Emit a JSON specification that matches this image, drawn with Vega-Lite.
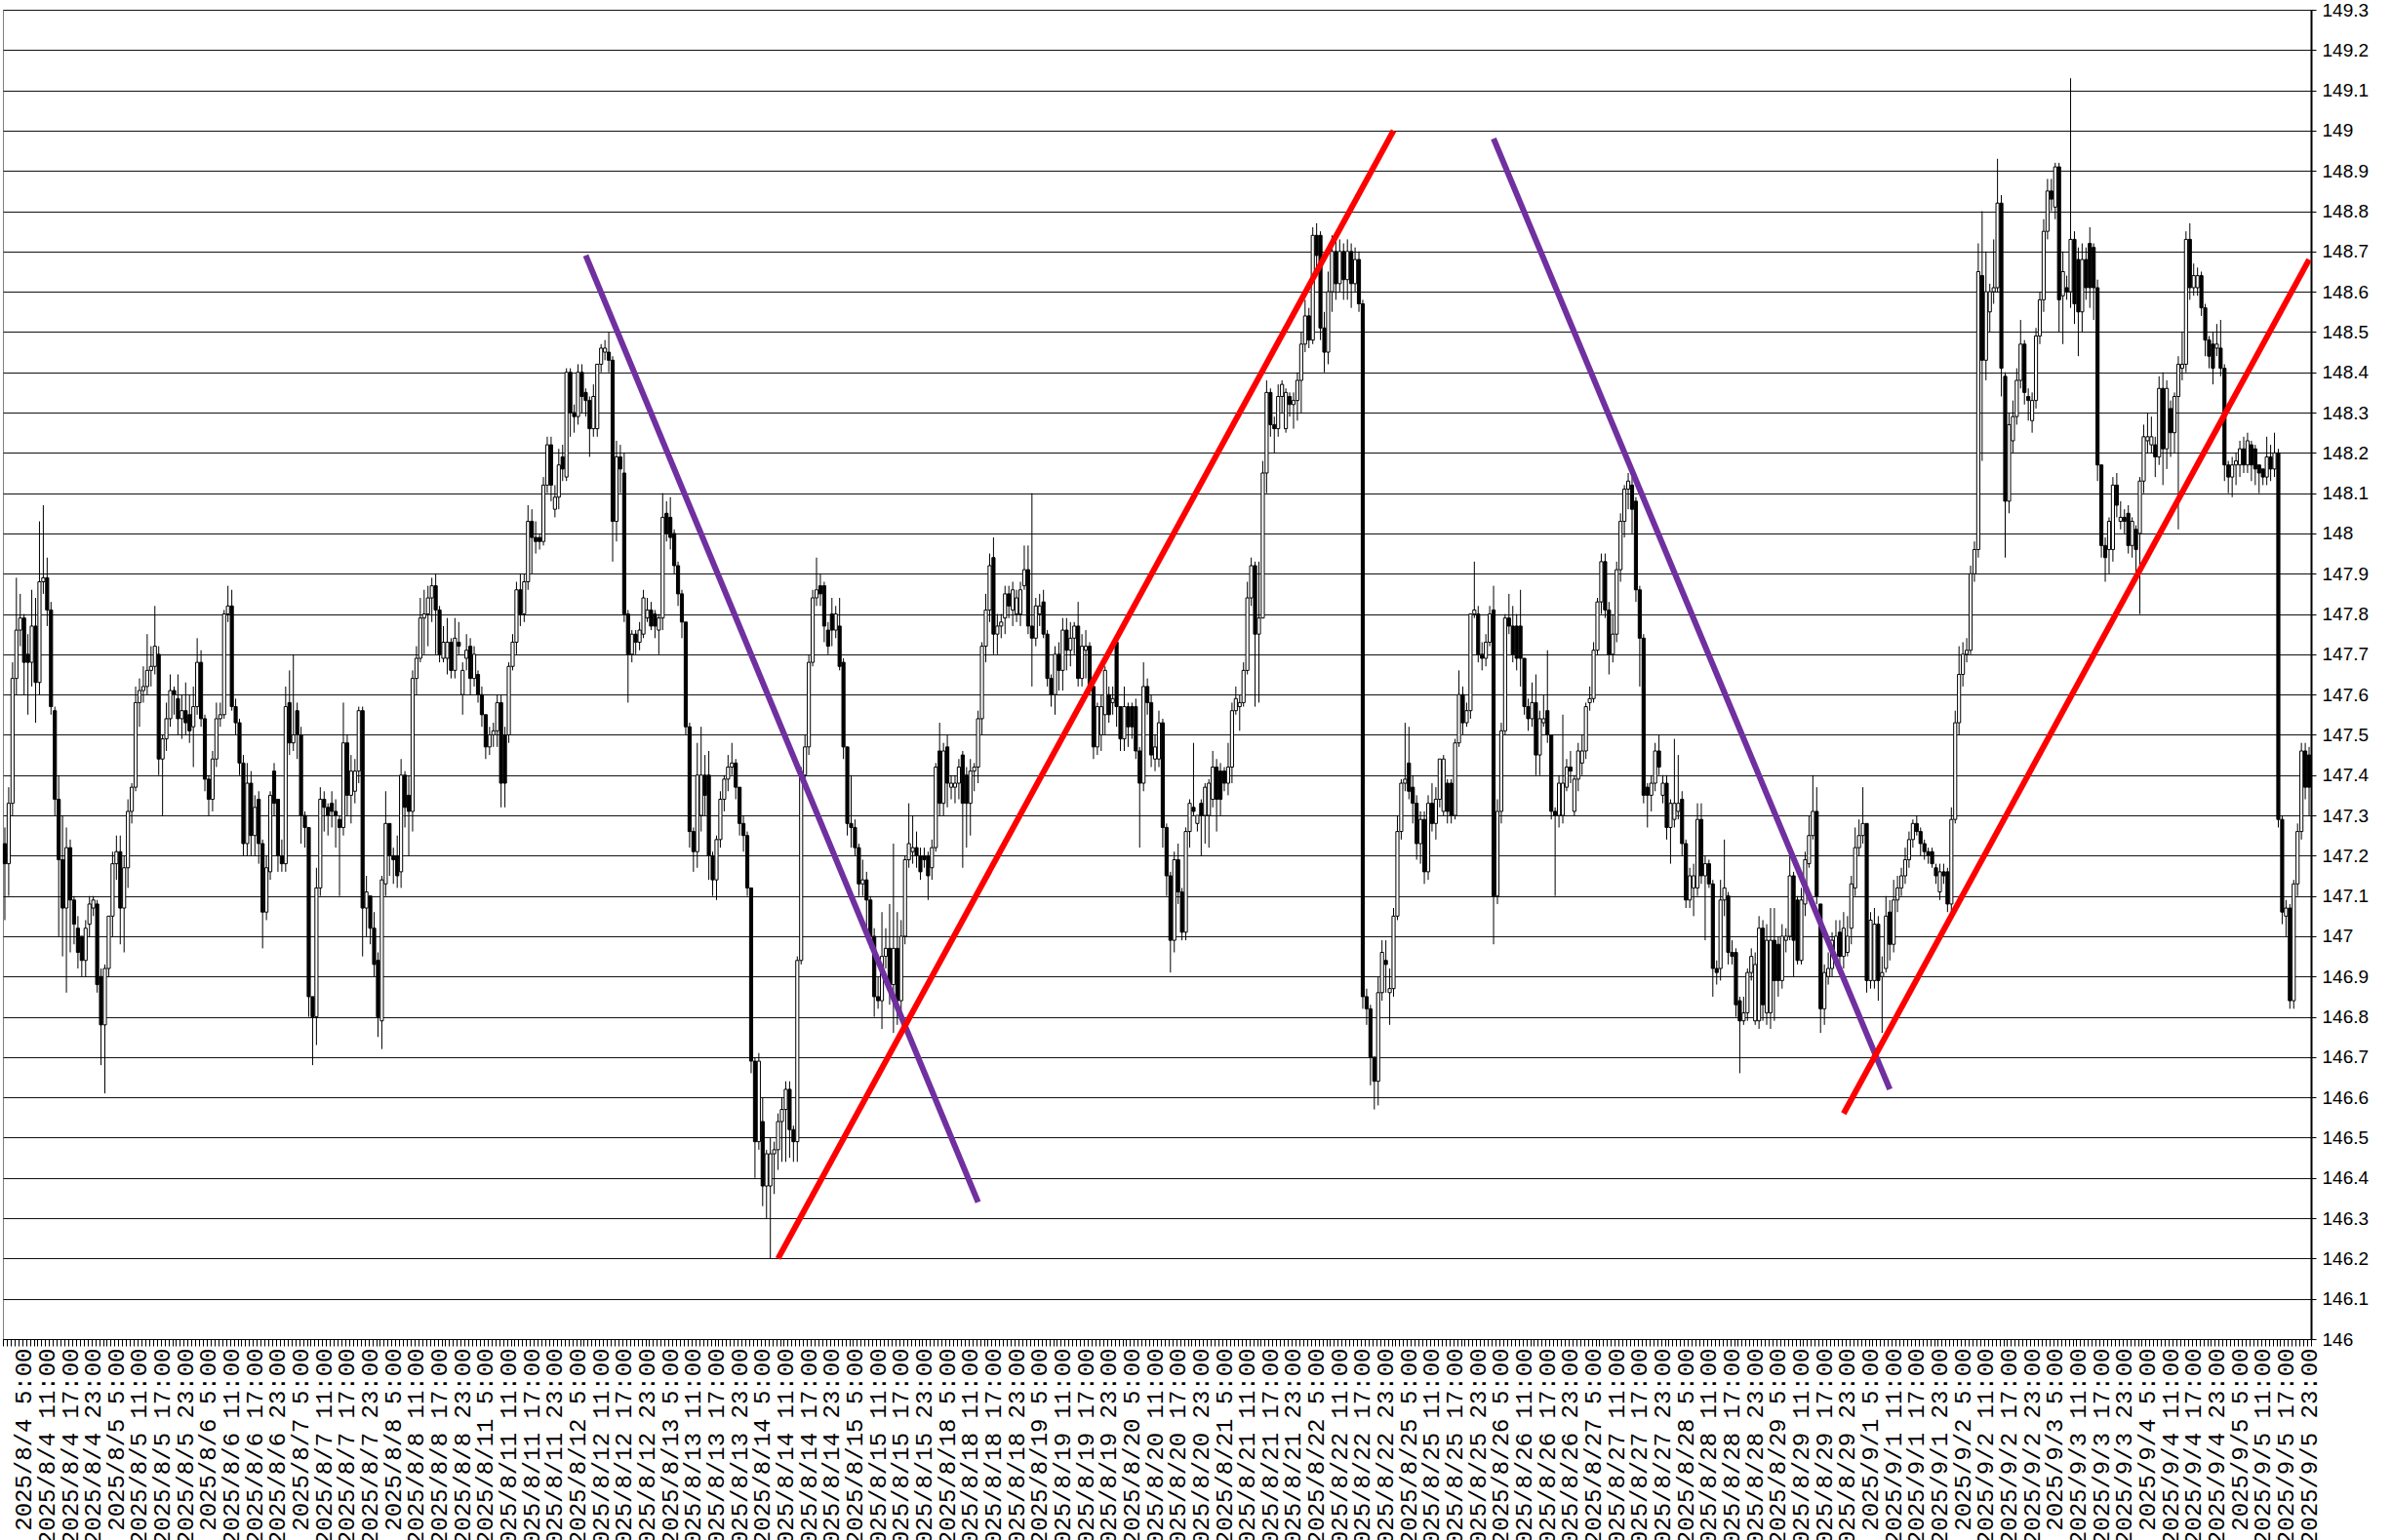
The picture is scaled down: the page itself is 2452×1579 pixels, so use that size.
{
"$schema":"https://vega.github.io/schema/vega-lite/v6.json",
"width":2366,"height":1363,
"autosize":{"type":"none"},
"padding":{"left":3,"top":10,"right":83,"bottom":206},
"background":"white",
"config":{"view":{"stroke":"#808080","strokeWidth":1}},
"datasets":{
"candles":[
{"t":"8/4 0","o":147.23,"h":147.27,"l":147.04,"c":147.18},
{"t":"8/4 1","o":147.18,"h":147.37,"l":147.10,"c":147.33},
{"t":"8/4 2","o":147.33,"h":147.68,"l":147.30,"c":147.64},
{"t":"8/4 3","o":147.64,"h":147.89,"l":147.60,"c":147.76},
{"t":"8/4 4","o":147.76,"h":147.85,"l":147.72,"c":147.79},
{"t":"8/4 5","o":147.79,"h":147.80,"l":147.60,"c":147.68},
{"t":"8/4 6","o":147.70,"h":147.75,"l":147.55,"c":147.68},
{"t":"8/4 7","o":147.68,"h":147.86,"l":147.62,"c":147.77},
{"t":"8/4 8","o":147.77,"h":147.84,"l":147.53,"c":147.63},
{"t":"8/4 9","o":147.63,"h":148.03,"l":147.60,"c":147.88},
{"t":"8/4 10","o":147.88,"h":148.07,"l":147.85,"c":147.89},
{"t":"8/4 11","o":147.89,"h":147.94,"l":147.77,"c":147.81},
{"t":"8/4 12","o":147.81,"h":147.83,"l":147.55,"c":147.57},
{"t":"8/4 13","o":147.56,"h":147.57,"l":147.30,"c":147.34},
{"t":"8/4 14","o":147.34,"h":147.40,"l":147.00,"c":147.19},
{"t":"8/4 15","o":147.19,"h":147.30,"l":146.95,"c":147.07},
{"t":"8/4 16","o":147.07,"h":147.27,"l":146.86,"c":147.22},
{"t":"8/4 17","o":147.22,"h":147.24,"l":146.96,"c":147.09},
{"t":"8/4 18","o":147.09,"h":147.10,"l":146.98,"c":147.03},
{"t":"8/4 19","o":147.02,"h":147.05,"l":146.92,"c":146.96},
{"t":"8/4 20","o":147.00,"h":147.00,"l":146.90,"c":146.94},
{"t":"8/4 21","o":146.94,"h":147.04,"l":146.90,"c":147.02},
{"t":"8/4 22","o":147.03,"h":147.10,"l":147.00,"c":147.08},
{"t":"8/4 23","o":147.07,"h":147.10,"l":147.05,"c":147.09},
{"t":"8/5 0","o":147.08,"h":147.09,"l":146.86,"c":146.88},
{"t":"8/5 1","o":146.90,"h":146.92,"l":146.68,"c":146.78},
{"t":"8/5 2","o":146.78,"h":146.93,"l":146.61,"c":146.92},
{"t":"8/5 3","o":146.92,"h":147.05,"l":146.90,"c":147.05},
{"t":"8/5 4","o":147.05,"h":147.21,"l":147.00,"c":147.18},
{"t":"8/5 5","o":147.18,"h":147.25,"l":147.14,"c":147.21},
{"t":"8/5 6","o":147.21,"h":147.25,"l":146.98,"c":147.07},
{"t":"8/5 7","o":147.07,"h":147.20,"l":146.96,"c":147.17},
{"t":"8/5 8","o":147.17,"h":147.34,"l":147.12,"c":147.31},
{"t":"8/5 9","o":147.31,"h":147.38,"l":147.28,"c":147.37},
{"t":"8/5 10","o":147.37,"h":147.62,"l":147.36,"c":147.58},
{"t":"8/5 11","o":147.58,"h":147.64,"l":147.52,"c":147.61},
{"t":"8/5 12","o":147.61,"h":147.67,"l":147.58,"c":147.62},
{"t":"8/5 13","o":147.62,"h":147.75,"l":147.60,"c":147.66},
{"t":"8/5 14","o":147.66,"h":147.72,"l":147.62,"c":147.67},
{"t":"8/5 15","o":147.67,"h":147.82,"l":147.65,"c":147.72},
{"t":"8/5 16","o":147.70,"h":147.72,"l":147.40,"c":147.44},
{"t":"8/5 17","o":147.44,"h":147.50,"l":147.30,"c":147.49},
{"t":"8/5 18","o":147.49,"h":147.58,"l":147.46,"c":147.54},
{"t":"8/5 19","o":147.54,"h":147.65,"l":147.52,"c":147.61},
{"t":"8/5 20","o":147.61,"h":147.62,"l":147.55,"c":147.60},
{"t":"8/5 21","o":147.59,"h":147.65,"l":147.50,"c":147.54},
{"t":"8/5 22","o":147.54,"h":147.60,"l":147.49,"c":147.56},
{"t":"8/5 23","o":147.56,"h":147.63,"l":147.50,"c":147.53},
{"t":"8/6 0","o":147.55,"h":147.60,"l":147.48,"c":147.51},
{"t":"8/6 1","o":147.52,"h":147.62,"l":147.42,"c":147.57},
{"t":"8/6 2","o":147.57,"h":147.74,"l":147.55,"c":147.68},
{"t":"8/6 3","o":147.68,"h":147.71,"l":147.52,"c":147.54},
{"t":"8/6 4","o":147.54,"h":147.55,"l":147.36,"c":147.39},
{"t":"8/6 5","o":147.39,"h":147.40,"l":147.30,"c":147.34},
{"t":"8/6 6","o":147.34,"h":147.46,"l":147.31,"c":147.44},
{"t":"8/6 7","o":147.44,"h":147.58,"l":147.42,"c":147.54},
{"t":"8/6 8","o":147.54,"h":147.58,"l":147.52,"c":147.55},
{"t":"8/6 9","o":147.55,"h":147.81,"l":147.54,"c":147.80},
{"t":"8/6 10","o":147.80,"h":147.87,"l":147.78,"c":147.82},
{"t":"8/6 11","o":147.82,"h":147.86,"l":147.56,"c":147.57},
{"t":"8/6 12","o":147.57,"h":147.59,"l":147.50,"c":147.53},
{"t":"8/6 13","o":147.53,"h":147.54,"l":147.40,"c":147.43},
{"t":"8/6 14","o":147.43,"h":147.45,"l":147.20,"c":147.23},
{"t":"8/6 15","o":147.23,"h":147.43,"l":147.20,"c":147.38},
{"t":"8/6 16","o":147.38,"h":147.41,"l":147.20,"c":147.25},
{"t":"8/6 17","o":147.25,"h":147.35,"l":147.20,"c":147.32},
{"t":"8/6 18","o":147.34,"h":147.36,"l":147.18,"c":147.23},
{"t":"8/6 19","o":147.23,"h":147.24,"l":146.97,"c":147.06},
{"t":"8/6 20","o":147.06,"h":147.20,"l":147.04,"c":147.17},
{"t":"8/6 21","o":147.16,"h":147.36,"l":147.14,"c":147.35},
{"t":"8/6 22","o":147.41,"h":147.43,"l":147.30,"c":147.33},
{"t":"8/6 23","o":147.34,"h":147.34,"l":147.16,"c":147.20},
{"t":"8/7 0","o":147.20,"h":147.24,"l":147.16,"c":147.18},
{"t":"8/7 1","o":147.18,"h":147.62,"l":147.16,"c":147.57},
{"t":"8/7 2","o":147.58,"h":147.66,"l":147.45,"c":147.48},
{"t":"8/7 3","o":147.48,"h":147.70,"l":147.46,"c":147.50},
{"t":"8/7 4","o":147.56,"h":147.58,"l":147.44,"c":147.50},
{"t":"8/7 5","o":147.50,"h":147.52,"l":147.23,"c":147.30},
{"t":"8/7 6","o":147.30,"h":147.31,"l":147.22,"c":147.27},
{"t":"8/7 7","o":147.27,"h":147.27,"l":146.80,"c":146.85},
{"t":"8/7 8","o":146.85,"h":146.85,"l":146.68,"c":146.80},
{"t":"8/7 9","o":146.80,"h":147.17,"l":146.73,"c":147.12},
{"t":"8/7 10","o":147.12,"h":147.37,"l":147.10,"c":147.34},
{"t":"8/7 11","o":147.34,"h":147.36,"l":147.26,"c":147.32},
{"t":"8/7 12","o":147.32,"h":147.33,"l":147.25,"c":147.30},
{"t":"8/7 13","o":147.33,"h":147.36,"l":147.27,"c":147.31},
{"t":"8/7 14","o":147.31,"h":147.34,"l":147.22,"c":147.30},
{"t":"8/7 15","o":147.29,"h":147.30,"l":147.10,"c":147.27},
{"t":"8/7 16","o":147.27,"h":147.58,"l":147.25,"c":147.48},
{"t":"8/7 17","o":147.48,"h":147.50,"l":147.30,"c":147.35},
{"t":"8/7 18","o":147.35,"h":147.45,"l":147.28,"c":147.41},
{"t":"8/7 19","o":147.36,"h":147.44,"l":147.33,"c":147.41},
{"t":"8/7 20","o":147.41,"h":147.57,"l":147.38,"c":147.56},
{"t":"8/7 21","o":147.56,"h":147.57,"l":146.95,"c":147.07},
{"t":"8/7 22","o":147.07,"h":147.15,"l":147.00,"c":147.11},
{"t":"8/7 23","o":147.10,"h":147.10,"l":146.98,"c":147.02},
{"t":"8/8 0","o":147.02,"h":147.06,"l":146.90,"c":146.93},
{"t":"8/8 1","o":146.94,"h":146.96,"l":146.75,"c":146.80},
{"t":"8/8 2","o":146.79,"h":147.15,"l":146.72,"c":147.14},
{"t":"8/8 3","o":147.13,"h":147.36,"l":147.10,"c":147.28},
{"t":"8/8 4","o":147.28,"h":147.28,"l":147.15,"c":147.20},
{"t":"8/8 5","o":147.20,"h":147.22,"l":147.13,"c":147.19},
{"t":"8/8 6","o":147.20,"h":147.25,"l":147.12,"c":147.15},
{"t":"8/8 7","o":147.16,"h":147.44,"l":147.12,"c":147.40},
{"t":"8/8 8","o":147.40,"h":147.41,"l":147.27,"c":147.32},
{"t":"8/8 9","o":147.35,"h":147.40,"l":147.20,"c":147.31},
{"t":"8/8 10","o":147.31,"h":147.66,"l":147.26,"c":147.64},
{"t":"8/8 11","o":147.64,"h":147.72,"l":147.60,"c":147.69},
{"t":"8/8 12","o":147.69,"h":147.84,"l":147.68,"c":147.79},
{"t":"8/8 13","o":147.79,"h":147.86,"l":147.70,"c":147.80},
{"t":"8/8 14","o":147.80,"h":147.87,"l":147.72,"c":147.84},
{"t":"8/8 15","o":147.84,"h":147.89,"l":147.78,"c":147.87},
{"t":"8/8 16","o":147.87,"h":147.90,"l":147.70,"c":147.81},
{"t":"8/8 17","o":147.81,"h":147.82,"l":147.68,"c":147.70},
{"t":"8/8 18","o":147.69,"h":147.77,"l":147.68,"c":147.73},
{"t":"8/8 19","o":147.69,"h":147.79,"l":147.65,"c":147.73},
{"t":"8/8 20","o":147.73,"h":147.74,"l":147.64,"c":147.66},
{"t":"8/8 21","o":147.66,"h":147.79,"l":147.64,"c":147.74},
{"t":"8/8 22","o":147.73,"h":147.78,"l":147.70,"c":147.72},
{"t":"8/8 23","o":147.60,"h":147.68,"l":147.55,"c":147.66},
{"t":"8/11 0","o":147.69,"h":147.75,"l":147.66,"c":147.71},
{"t":"8/11 1","o":147.72,"h":147.74,"l":147.60,"c":147.64},
{"t":"8/11 2","o":147.64,"h":147.72,"l":147.62,"c":147.70},
{"t":"8/11 3","o":147.65,"h":147.66,"l":147.58,"c":147.60},
{"t":"8/11 4","o":147.60,"h":147.62,"l":147.52,"c":147.55},
{"t":"8/11 5","o":147.55,"h":147.55,"l":147.44,"c":147.47},
{"t":"8/11 6","o":147.47,"h":147.52,"l":147.45,"c":147.50},
{"t":"8/11 7","o":147.50,"h":147.53,"l":147.47,"c":147.51},
{"t":"8/11 8","o":147.51,"h":147.60,"l":147.47,"c":147.58},
{"t":"8/11 9","o":147.58,"h":147.60,"l":147.32,"c":147.38},
{"t":"8/11 10","o":147.50,"h":147.52,"l":147.32,"c":147.38},
{"t":"8/11 11","o":147.50,"h":147.68,"l":147.48,"c":147.67},
{"t":"8/11 12","o":147.67,"h":147.75,"l":147.66,"c":147.73},
{"t":"8/11 13","o":147.73,"h":147.88,"l":147.70,"c":147.86},
{"t":"8/11 14","o":147.86,"h":147.90,"l":147.77,"c":147.80},
{"t":"8/11 15","o":147.80,"h":147.90,"l":147.78,"c":147.88},
{"t":"8/11 16","o":147.88,"h":148.07,"l":147.86,"c":148.03},
{"t":"8/11 17","o":148.03,"h":148.06,"l":147.90,"c":147.99},
{"t":"8/11 18","o":147.99,"h":148.03,"l":147.95,"c":147.98},
{"t":"8/11 19","o":147.99,"h":148.00,"l":147.96,"c":147.98},
{"t":"8/11 20","o":147.98,"h":148.14,"l":147.97,"c":148.12},
{"t":"8/11 21","o":148.12,"h":148.24,"l":148.10,"c":148.22},
{"t":"8/11 22","o":148.22,"h":148.24,"l":148.08,"c":148.12},
{"t":"8/11 23","o":148.06,"h":148.12,"l":148.04,"c":148.09},
{"t":"8/12 0","o":148.09,"h":148.21,"l":148.06,"c":148.17},
{"t":"8/12 1","o":148.19,"h":148.22,"l":148.13,"c":148.16},
{"t":"8/12 2","o":148.14,"h":148.41,"l":148.13,"c":148.40},
{"t":"8/12 3","o":148.40,"h":148.41,"l":148.24,"c":148.30},
{"t":"8/12 4","o":148.30,"h":148.32,"l":148.25,"c":148.29},
{"t":"8/12 5","o":148.29,"h":148.42,"l":148.27,"c":148.40},
{"t":"8/12 6","o":148.40,"h":148.42,"l":148.30,"c":148.34},
{"t":"8/12 7","o":148.35,"h":148.36,"l":148.29,"c":148.33},
{"t":"8/12 8","o":148.33,"h":148.34,"l":148.19,"c":148.26},
{"t":"8/12 9","o":148.26,"h":148.37,"l":148.24,"c":148.34},
{"t":"8/12 10","o":148.26,"h":148.42,"l":148.24,"c":148.42},
{"t":"8/12 11","o":148.42,"h":148.47,"l":148.40,"c":148.46},
{"t":"8/12 12","o":148.45,"h":148.48,"l":148.43,"c":148.46},
{"t":"8/12 13","o":148.45,"h":148.50,"l":148.40,"c":148.43},
{"t":"8/12 14","o":148.43,"h":148.44,"l":147.93,"c":148.03},
{"t":"8/12 15","o":148.03,"h":148.23,"l":147.98,"c":148.19},
{"t":"8/12 16","o":148.19,"h":148.22,"l":148.10,"c":148.16},
{"t":"8/12 17","o":148.15,"h":148.20,"l":147.78,"c":147.80},
{"t":"8/12 18","o":147.80,"h":147.81,"l":147.58,"c":147.70},
{"t":"8/12 19","o":147.70,"h":147.76,"l":147.68,"c":147.75},
{"t":"8/12 20","o":147.75,"h":147.76,"l":147.70,"c":147.73},
{"t":"8/12 21","o":147.73,"h":147.78,"l":147.71,"c":147.76},
{"t":"8/12 22","o":147.75,"h":147.86,"l":147.74,"c":147.84},
{"t":"8/12 23","o":147.79,"h":147.84,"l":147.78,"c":147.81},
{"t":"8/13 0","o":147.81,"h":147.83,"l":147.76,"c":147.77},
{"t":"8/13 1","o":147.80,"h":147.81,"l":147.74,"c":147.77},
{"t":"8/13 2","o":147.76,"h":147.80,"l":147.70,"c":147.79},
{"t":"8/13 3","o":147.79,"h":148.10,"l":147.76,"c":148.04},
{"t":"8/13 4","o":148.05,"h":148.08,"l":147.98,"c":148.00},
{"t":"8/13 5","o":148.04,"h":148.09,"l":147.96,"c":147.99},
{"t":"8/13 6","o":148.00,"h":148.01,"l":147.90,"c":147.92},
{"t":"8/13 7","o":147.92,"h":147.93,"l":147.82,"c":147.85},
{"t":"8/13 8","o":147.85,"h":147.86,"l":147.74,"c":147.78},
{"t":"8/13 9","o":147.78,"h":147.78,"l":147.50,"c":147.52},
{"t":"8/13 10","o":147.52,"h":147.53,"l":147.22,"c":147.26},
{"t":"8/13 11","o":147.26,"h":147.27,"l":147.16,"c":147.21},
{"t":"8/13 12","o":147.21,"h":147.48,"l":147.17,"c":147.40},
{"t":"8/13 13","o":147.30,"h":147.52,"l":147.26,"c":147.40},
{"t":"8/13 14","o":147.40,"h":147.45,"l":147.30,"c":147.35},
{"t":"8/13 15","o":147.40,"h":147.46,"l":147.14,"c":147.20},
{"t":"8/13 16","o":147.20,"h":147.21,"l":147.10,"c":147.14},
{"t":"8/13 17","o":147.14,"h":147.25,"l":147.09,"c":147.24},
{"t":"8/13 18","o":147.24,"h":147.36,"l":147.22,"c":147.34},
{"t":"8/13 19","o":147.34,"h":147.40,"l":147.31,"c":147.39},
{"t":"8/13 20","o":147.39,"h":147.45,"l":147.36,"c":147.42},
{"t":"8/13 21","o":147.42,"h":147.48,"l":147.40,"c":147.43},
{"t":"8/13 22","o":147.43,"h":147.44,"l":147.34,"c":147.37},
{"t":"8/13 23","o":147.37,"h":147.37,"l":147.25,"c":147.28},
{"t":"8/14 0","o":147.28,"h":147.30,"l":147.21,"c":147.25},
{"t":"8/14 1","o":147.25,"h":147.26,"l":147.10,"c":147.12},
{"t":"8/14 2","o":147.12,"h":147.12,"l":146.66,"c":146.69},
{"t":"8/14 3","o":146.69,"h":146.70,"l":146.40,"c":146.49},
{"t":"8/14 4","o":146.49,"h":146.71,"l":146.47,"c":146.69},
{"t":"8/14 5","o":146.54,"h":146.60,"l":146.33,"c":146.38},
{"t":"8/14 6","o":146.38,"h":146.47,"l":146.30,"c":146.46},
{"t":"8/14 7","o":146.38,"h":146.50,"l":146.20,"c":146.46},
{"t":"8/14 8","o":146.46,"h":146.49,"l":146.36,"c":146.47},
{"t":"8/14 9","o":146.47,"h":146.56,"l":146.42,"c":146.54},
{"t":"8/14 10","o":146.54,"h":146.60,"l":146.44,"c":146.57},
{"t":"8/14 11","o":146.57,"h":146.64,"l":146.44,"c":146.62},
{"t":"8/14 12","o":146.62,"h":146.64,"l":146.45,"c":146.52},
{"t":"8/14 13","o":146.52,"h":146.53,"l":146.44,"c":146.49},
{"t":"8/14 14","o":146.49,"h":146.95,"l":146.44,"c":146.94},
{"t":"8/14 15","o":146.94,"h":147.42,"l":146.93,"c":147.40},
{"t":"8/14 16","o":147.40,"h":147.50,"l":147.38,"c":147.47},
{"t":"8/14 17","o":147.47,"h":147.70,"l":147.45,"c":147.68},
{"t":"8/14 18","o":147.68,"h":147.86,"l":147.67,"c":147.84},
{"t":"8/14 19","o":147.84,"h":147.94,"l":147.82,"c":147.86},
{"t":"8/14 20","o":147.87,"h":147.90,"l":147.82,"c":147.85},
{"t":"8/14 21","o":147.87,"h":147.88,"l":147.73,"c":147.77},
{"t":"8/14 22","o":147.76,"h":147.78,"l":147.70,"c":147.72},
{"t":"8/14 23","o":147.80,"h":147.84,"l":147.72,"c":147.76},
{"t":"8/15 0","o":147.76,"h":147.82,"l":147.74,"c":147.80},
{"t":"8/15 1","o":147.77,"h":147.84,"l":147.66,"c":147.67},
{"t":"8/15 2","o":147.68,"h":147.69,"l":147.44,"c":147.47},
{"t":"8/15 3","o":147.47,"h":147.47,"l":147.25,"c":147.28},
{"t":"8/15 4","o":147.28,"h":147.40,"l":147.22,"c":147.27},
{"t":"8/15 5","o":147.27,"h":147.29,"l":147.20,"c":147.22},
{"t":"8/15 6","o":147.22,"h":147.23,"l":147.10,"c":147.13},
{"t":"8/15 7","o":147.13,"h":147.19,"l":147.10,"c":147.14},
{"t":"8/15 8","o":147.14,"h":147.16,"l":147.02,"c":147.09},
{"t":"8/15 9","o":147.09,"h":147.10,"l":146.97,"c":147.00},
{"t":"8/15 10","o":147.00,"h":147.02,"l":146.80,"c":146.85},
{"t":"8/15 11","o":146.85,"h":146.90,"l":146.82,"c":146.84},
{"t":"8/15 12","o":146.84,"h":147.06,"l":146.77,"c":146.95},
{"t":"8/15 13","o":146.95,"h":147.02,"l":146.92,"c":146.97},
{"t":"8/15 14","o":146.97,"h":147.08,"l":146.83,"c":146.88},
{"t":"8/15 15","o":146.88,"h":147.23,"l":146.76,"c":146.97},
{"t":"8/15 16","o":146.97,"h":147.06,"l":146.78,"c":146.84},
{"t":"8/15 17","o":146.84,"h":147.04,"l":146.80,"c":147.00},
{"t":"8/15 18","o":147.00,"h":147.20,"l":146.98,"c":147.19},
{"t":"8/15 19","o":147.19,"h":147.33,"l":147.17,"c":147.23},
{"t":"8/15 20","o":147.21,"h":147.30,"l":147.18,"c":147.22},
{"t":"8/15 21","o":147.22,"h":147.26,"l":147.17,"c":147.20},
{"t":"8/15 22","o":147.20,"h":147.22,"l":147.14,"c":147.16},
{"t":"8/15 23","o":147.20,"h":147.22,"l":147.17,"c":147.19},
{"t":"8/18 0","o":147.20,"h":147.21,"l":147.09,"c":147.15},
{"t":"8/18 1","o":147.17,"h":147.24,"l":147.14,"c":147.22},
{"t":"8/18 2","o":147.22,"h":147.43,"l":147.21,"c":147.42},
{"t":"8/18 3","o":147.46,"h":147.53,"l":147.30,"c":147.33},
{"t":"8/18 4","o":147.33,"h":147.48,"l":147.30,"c":147.46},
{"t":"8/18 5","o":147.47,"h":147.50,"l":147.32,"c":147.38},
{"t":"8/18 6","o":147.37,"h":147.40,"l":147.34,"c":147.38},
{"t":"8/18 7","o":147.37,"h":147.40,"l":147.33,"c":147.38},
{"t":"8/18 8","o":147.38,"h":147.44,"l":147.34,"c":147.42},
{"t":"8/18 9","o":147.45,"h":147.46,"l":147.17,"c":147.33},
{"t":"8/18 10","o":147.40,"h":147.42,"l":147.22,"c":147.33},
{"t":"8/18 11","o":147.33,"h":147.44,"l":147.25,"c":147.41},
{"t":"8/18 12","o":147.41,"h":147.43,"l":147.36,"c":147.42},
{"t":"8/18 13","o":147.42,"h":147.56,"l":147.38,"c":147.54},
{"t":"8/18 14","o":147.54,"h":147.73,"l":147.50,"c":147.72},
{"t":"8/18 15","o":147.72,"h":147.85,"l":147.68,"c":147.81},
{"t":"8/18 16","o":147.81,"h":147.95,"l":147.78,"c":147.92},
{"t":"8/18 17","o":147.94,"h":147.99,"l":147.70,"c":147.75},
{"t":"8/18 18","o":147.75,"h":147.80,"l":147.70,"c":147.77},
{"t":"8/18 19","o":147.77,"h":147.80,"l":147.74,"c":147.78},
{"t":"8/18 20","o":147.79,"h":147.87,"l":147.75,"c":147.85},
{"t":"8/18 21","o":147.85,"h":147.87,"l":147.79,"c":147.82},
{"t":"8/18 22","o":147.81,"h":147.88,"l":147.77,"c":147.86},
{"t":"8/18 23","o":147.80,"h":147.86,"l":147.78,"c":147.84},
{"t":"8/19 0","o":147.80,"h":147.88,"l":147.77,"c":147.86},
{"t":"8/19 1","o":147.87,"h":147.97,"l":147.86,"c":147.91},
{"t":"8/19 2","o":147.91,"h":147.97,"l":147.75,"c":147.77},
{"t":"8/19 3","o":147.77,"h":148.10,"l":147.62,"c":147.74},
{"t":"8/19 4","o":147.74,"h":147.84,"l":147.72,"c":147.82},
{"t":"8/19 5","o":147.80,"h":147.85,"l":147.77,"c":147.82},
{"t":"8/19 6","o":147.83,"h":147.86,"l":147.74,"c":147.75},
{"t":"8/19 7","o":147.75,"h":147.76,"l":147.62,"c":147.64},
{"t":"8/19 8","o":147.64,"h":147.65,"l":147.57,"c":147.60},
{"t":"8/19 9","o":147.60,"h":147.72,"l":147.55,"c":147.70},
{"t":"8/19 10","o":147.70,"h":147.73,"l":147.61,"c":147.66},
{"t":"8/19 11","o":147.66,"h":147.79,"l":147.61,"c":147.76},
{"t":"8/19 12","o":147.76,"h":147.79,"l":147.66,"c":147.71},
{"t":"8/19 13","o":147.71,"h":147.78,"l":147.67,"c":147.74},
{"t":"8/19 14","o":147.74,"h":147.78,"l":147.70,"c":147.77},
{"t":"8/19 15","o":147.77,"h":147.83,"l":147.62,"c":147.64},
{"t":"8/19 16","o":147.64,"h":147.75,"l":147.62,"c":147.72},
{"t":"8/19 17","o":147.71,"h":147.76,"l":147.64,"c":147.72},
{"t":"8/19 18","o":147.72,"h":147.73,"l":147.60,"c":147.61},
{"t":"8/19 19","o":147.62,"h":147.62,"l":147.44,"c":147.47},
{"t":"8/19 20","o":147.47,"h":147.58,"l":147.45,"c":147.57},
{"t":"8/19 21","o":147.50,"h":147.60,"l":147.46,"c":147.57},
{"t":"8/19 22","o":147.55,"h":147.67,"l":147.50,"c":147.66},
{"t":"8/19 23","o":147.60,"h":147.62,"l":147.53,"c":147.55},
{"t":"8/20 0","o":147.58,"h":147.62,"l":147.55,"c":147.59},
{"t":"8/20 1","o":147.73,"h":147.74,"l":147.52,"c":147.57},
{"t":"8/20 2","o":147.57,"h":147.57,"l":147.46,"c":147.49},
{"t":"8/20 3","o":147.49,"h":147.62,"l":147.46,"c":147.57},
{"t":"8/20 4","o":147.57,"h":147.58,"l":147.47,"c":147.52},
{"t":"8/20 5","o":147.57,"h":147.58,"l":147.49,"c":147.52},
{"t":"8/20 6","o":147.57,"h":147.59,"l":147.44,"c":147.46},
{"t":"8/20 7","o":147.46,"h":147.47,"l":147.22,"c":147.38},
{"t":"8/20 8","o":147.38,"h":147.68,"l":147.36,"c":147.62},
{"t":"8/20 9","o":147.62,"h":147.64,"l":147.55,"c":147.58},
{"t":"8/20 10","o":147.58,"h":147.60,"l":147.42,"c":147.45},
{"t":"8/20 11","o":147.44,"h":147.50,"l":147.41,"c":147.47},
{"t":"8/20 12","o":147.44,"h":147.56,"l":147.42,"c":147.53},
{"t":"8/20 13","o":147.53,"h":147.54,"l":147.22,"c":147.27},
{"t":"8/20 14","o":147.27,"h":147.28,"l":147.10,"c":147.15},
{"t":"8/20 15","o":147.15,"h":147.16,"l":146.91,"c":146.99},
{"t":"8/20 16","o":146.99,"h":147.21,"l":146.96,"c":147.19},
{"t":"8/20 17","o":147.19,"h":147.23,"l":147.08,"c":147.11},
{"t":"8/20 18","o":147.11,"h":147.12,"l":146.99,"c":147.01},
{"t":"8/20 19","o":147.01,"h":147.27,"l":146.99,"c":147.26},
{"t":"8/20 20","o":147.26,"h":147.34,"l":147.22,"c":147.33},
{"t":"8/20 21","o":147.32,"h":147.48,"l":147.30,"c":147.31},
{"t":"8/20 22","o":147.28,"h":147.30,"l":147.26,"c":147.30},
{"t":"8/20 23","o":147.33,"h":147.34,"l":147.20,"c":147.30},
{"t":"8/21 0","o":147.30,"h":147.38,"l":147.23,"c":147.37},
{"t":"8/21 1","o":147.30,"h":147.39,"l":147.22,"c":147.38},
{"t":"8/21 2","o":147.34,"h":147.46,"l":147.32,"c":147.42},
{"t":"8/21 3","o":147.42,"h":147.44,"l":147.26,"c":147.34},
{"t":"8/21 4","o":147.41,"h":147.43,"l":147.30,"c":147.34},
{"t":"8/21 5","o":147.41,"h":147.42,"l":147.36,"c":147.38},
{"t":"8/21 6","o":147.38,"h":147.48,"l":147.35,"c":147.42},
{"t":"8/21 7","o":147.42,"h":147.58,"l":147.38,"c":147.56},
{"t":"8/21 8","o":147.56,"h":147.62,"l":147.55,"c":147.59},
{"t":"8/21 9","o":147.57,"h":147.60,"l":147.51,"c":147.58},
{"t":"8/21 10","o":147.58,"h":147.68,"l":147.57,"c":147.66},
{"t":"8/21 11","o":147.66,"h":147.88,"l":147.65,"c":147.84},
{"t":"8/21 12","o":147.84,"h":147.94,"l":147.82,"c":147.92},
{"t":"8/21 13","o":147.92,"h":147.93,"l":147.57,"c":147.75},
{"t":"8/21 14","o":147.75,"h":147.93,"l":147.58,"c":147.79},
{"t":"8/21 15","o":147.79,"h":148.18,"l":147.79,"c":148.15},
{"t":"8/21 16","o":148.15,"h":148.38,"l":148.10,"c":148.35},
{"t":"8/21 17","o":148.35,"h":148.36,"l":148.24,"c":148.27},
{"t":"8/21 18","o":148.27,"h":148.29,"l":148.20,"c":148.26},
{"t":"8/21 19","o":148.26,"h":148.37,"l":148.24,"c":148.34},
{"t":"8/21 20","o":148.34,"h":148.38,"l":148.30,"c":148.37},
{"t":"8/21 21","o":148.26,"h":148.36,"l":148.25,"c":148.35},
{"t":"8/21 22","o":148.34,"h":148.35,"l":148.29,"c":148.32},
{"t":"8/21 23","o":148.32,"h":148.35,"l":148.26,"c":148.33},
{"t":"8/22 0","o":148.33,"h":148.40,"l":148.28,"c":148.38},
{"t":"8/22 1","o":148.38,"h":148.50,"l":148.30,"c":148.47},
{"t":"8/22 2","o":148.47,"h":148.58,"l":148.45,"c":148.54},
{"t":"8/22 3","o":148.54,"h":148.56,"l":148.46,"c":148.48},
{"t":"8/22 4","o":148.48,"h":148.76,"l":148.47,"c":148.74},
{"t":"8/22 5","o":148.74,"h":148.77,"l":148.66,"c":148.69},
{"t":"8/22 6","o":148.74,"h":148.75,"l":148.48,"c":148.51},
{"t":"8/22 7","o":148.51,"h":148.55,"l":148.40,"c":148.45},
{"t":"8/22 8","o":148.45,"h":148.65,"l":148.42,"c":148.60},
{"t":"8/22 9","o":148.60,"h":148.74,"l":148.55,"c":148.70},
{"t":"8/22 10","o":148.70,"h":148.73,"l":148.58,"c":148.62},
{"t":"8/22 11","o":148.62,"h":148.73,"l":148.60,"c":148.70},
{"t":"8/22 12","o":148.70,"h":148.72,"l":148.58,"c":148.63},
{"t":"8/22 13","o":148.63,"h":148.73,"l":148.58,"c":148.70},
{"t":"8/22 14","o":148.70,"h":148.72,"l":148.56,"c":148.62},
{"t":"8/22 15","o":148.62,"h":148.71,"l":148.60,"c":148.68},
{"t":"8/22 16","o":148.68,"h":148.70,"l":148.55,"c":148.57},
{"t":"8/22 17","o":148.57,"h":148.58,"l":146.82,"c":146.85},
{"t":"8/22 18","o":146.85,"h":146.87,"l":146.78,"c":146.82},
{"t":"8/22 19","o":146.82,"h":146.83,"l":146.63,"c":146.70},
{"t":"8/22 20","o":146.70,"h":146.70,"l":146.57,"c":146.64},
{"t":"8/22 21","o":146.64,"h":146.90,"l":146.58,"c":146.86},
{"t":"8/22 22","o":146.86,"h":146.99,"l":146.84,"c":146.96},
{"t":"8/22 23","o":146.94,"h":146.99,"l":146.86,"c":146.93},
{"t":"8/25 0","o":146.86,"h":146.92,"l":146.78,"c":146.87},
{"t":"8/25 1","o":146.87,"h":147.07,"l":146.85,"c":147.05},
{"t":"8/25 2","o":147.05,"h":147.30,"l":147.04,"c":147.26},
{"t":"8/25 3","o":147.26,"h":147.39,"l":147.24,"c":147.38},
{"t":"8/25 4","o":147.38,"h":147.53,"l":147.36,"c":147.39},
{"t":"8/25 5","o":147.43,"h":147.52,"l":147.34,"c":147.36},
{"t":"8/25 6","o":147.37,"h":147.40,"l":147.28,"c":147.33},
{"t":"8/25 7","o":147.33,"h":147.35,"l":147.19,"c":147.23},
{"t":"8/25 8","o":147.23,"h":147.31,"l":147.18,"c":147.29},
{"t":"8/25 9","o":147.29,"h":147.31,"l":147.13,"c":147.16},
{"t":"8/25 10","o":147.16,"h":147.35,"l":147.14,"c":147.33},
{"t":"8/25 11","o":147.33,"h":147.38,"l":147.26,"c":147.28},
{"t":"8/25 12","o":147.28,"h":147.37,"l":147.24,"c":147.34},
{"t":"8/25 13","o":147.34,"h":147.44,"l":147.32,"c":147.44},
{"t":"8/25 14","o":147.31,"h":147.45,"l":147.30,"c":147.44},
{"t":"8/25 15","o":147.38,"h":147.39,"l":147.28,"c":147.31},
{"t":"8/25 16","o":147.38,"h":147.39,"l":147.28,"c":147.30},
{"t":"8/25 17","o":147.30,"h":147.49,"l":147.29,"c":147.48},
{"t":"8/25 18","o":147.48,"h":147.66,"l":147.47,"c":147.60},
{"t":"8/25 19","o":147.60,"h":147.62,"l":147.50,"c":147.53},
{"t":"8/25 20","o":147.53,"h":147.58,"l":147.52,"c":147.56},
{"t":"8/25 21","o":147.56,"h":147.80,"l":147.54,"c":147.80},
{"t":"8/25 22","o":147.80,"h":147.93,"l":147.79,"c":147.81},
{"t":"8/25 23","o":147.80,"h":147.82,"l":147.68,"c":147.70},
{"t":"8/26 0","o":147.70,"h":147.73,"l":147.66,"c":147.69},
{"t":"8/26 1","o":147.69,"h":147.75,"l":147.67,"c":147.73},
{"t":"8/26 2","o":147.73,"h":147.82,"l":147.72,"c":147.80},
{"t":"8/26 3","o":147.81,"h":147.87,"l":146.98,"c":147.10},
{"t":"8/26 4","o":147.10,"h":147.34,"l":147.08,"c":147.31},
{"t":"8/26 5","o":147.31,"h":147.53,"l":147.28,"c":147.51},
{"t":"8/26 6","o":147.51,"h":147.80,"l":147.50,"c":147.79},
{"t":"8/26 7","o":147.79,"h":147.85,"l":147.75,"c":147.77},
{"t":"8/26 8","o":147.77,"h":147.82,"l":147.68,"c":147.70},
{"t":"8/26 9","o":147.77,"h":147.80,"l":147.66,"c":147.69},
{"t":"8/26 10","o":147.77,"h":147.86,"l":147.62,"c":147.69},
{"t":"8/26 11","o":147.69,"h":147.69,"l":147.55,"c":147.57},
{"t":"8/26 12","o":147.57,"h":147.59,"l":147.51,"c":147.54},
{"t":"8/26 13","o":147.54,"h":147.63,"l":147.52,"c":147.58},
{"t":"8/26 14","o":147.58,"h":147.65,"l":147.40,"c":147.45},
{"t":"8/26 15","o":147.45,"h":147.56,"l":147.40,"c":147.54},
{"t":"8/26 16","o":147.53,"h":147.60,"l":147.52,"c":147.54},
{"t":"8/26 17","o":147.56,"h":147.71,"l":147.48,"c":147.50},
{"t":"8/26 18","o":147.50,"h":147.50,"l":147.29,"c":147.31},
{"t":"8/26 19","o":147.31,"h":147.32,"l":147.10,"c":147.30},
{"t":"8/26 20","o":147.30,"h":147.40,"l":147.27,"c":147.38},
{"t":"8/26 21","o":147.30,"h":147.55,"l":147.28,"c":147.38},
{"t":"8/26 22","o":147.37,"h":147.44,"l":147.36,"c":147.42},
{"t":"8/26 23","o":147.42,"h":147.46,"l":147.38,"c":147.41},
{"t":"8/27 0","o":147.31,"h":147.40,"l":147.30,"c":147.39},
{"t":"8/27 1","o":147.39,"h":147.48,"l":147.36,"c":147.46},
{"t":"8/27 2","o":147.43,"h":147.50,"l":147.40,"c":147.46},
{"t":"8/27 3","o":147.46,"h":147.58,"l":147.44,"c":147.57},
{"t":"8/27 4","o":147.58,"h":147.62,"l":147.56,"c":147.59},
{"t":"8/27 5","o":147.59,"h":147.73,"l":147.58,"c":147.71},
{"t":"8/27 6","o":147.71,"h":147.84,"l":147.70,"c":147.83},
{"t":"8/27 7","o":147.83,"h":147.95,"l":147.80,"c":147.93},
{"t":"8/27 8","o":147.93,"h":147.95,"l":147.79,"c":147.81},
{"t":"8/27 9","o":147.81,"h":147.83,"l":147.65,"c":147.70},
{"t":"8/27 10","o":147.70,"h":147.80,"l":147.68,"c":147.75},
{"t":"8/27 11","o":147.75,"h":147.93,"l":147.73,"c":147.91},
{"t":"8/27 12","o":147.91,"h":148.05,"l":147.88,"c":148.03},
{"t":"8/27 13","o":148.03,"h":148.12,"l":147.99,"c":148.11},
{"t":"8/27 14","o":148.11,"h":148.15,"l":148.06,"c":148.13},
{"t":"8/27 15","o":148.12,"h":148.14,"l":148.00,"c":148.06},
{"t":"8/27 16","o":148.08,"h":148.09,"l":147.83,"c":147.86},
{"t":"8/27 17","o":147.86,"h":147.87,"l":147.62,"c":147.74},
{"t":"8/27 18","o":147.74,"h":147.75,"l":147.33,"c":147.35},
{"t":"8/27 19","o":147.37,"h":147.38,"l":147.27,"c":147.35},
{"t":"8/27 20","o":147.35,"h":147.40,"l":147.31,"c":147.38},
{"t":"8/27 21","o":147.38,"h":147.48,"l":147.36,"c":147.46},
{"t":"8/27 22","o":147.46,"h":147.50,"l":147.40,"c":147.42},
{"t":"8/27 23","o":147.35,"h":147.40,"l":147.33,"c":147.38},
{"t":"8/28 0","o":147.38,"h":147.40,"l":147.24,"c":147.27},
{"t":"8/28 1","o":147.27,"h":147.34,"l":147.18,"c":147.33},
{"t":"8/28 2","o":147.29,"h":147.49,"l":147.27,"c":147.33},
{"t":"8/28 3","o":147.31,"h":147.45,"l":147.29,"c":147.33},
{"t":"8/28 4","o":147.34,"h":147.36,"l":147.20,"c":147.23},
{"t":"8/28 5","o":147.23,"h":147.24,"l":147.07,"c":147.09},
{"t":"8/28 6","o":147.09,"h":147.17,"l":147.07,"c":147.15},
{"t":"8/28 7","o":147.12,"h":147.18,"l":147.05,"c":147.15},
{"t":"8/28 8","o":147.12,"h":147.33,"l":147.10,"c":147.29},
{"t":"8/28 9","o":147.29,"h":147.33,"l":147.13,"c":147.15},
{"t":"8/28 10","o":147.15,"h":147.20,"l":146.99,"c":147.18},
{"t":"8/28 11","o":147.18,"h":147.19,"l":147.12,"c":147.13},
{"t":"8/28 12","o":147.13,"h":147.14,"l":146.85,"c":146.92},
{"t":"8/28 13","o":146.92,"h":146.94,"l":146.88,"c":146.91},
{"t":"8/28 14","o":146.92,"h":147.14,"l":146.89,"c":147.09},
{"t":"8/28 15","o":147.09,"h":147.24,"l":147.05,"c":147.12},
{"t":"8/28 16","o":147.10,"h":147.11,"l":146.93,"c":146.96},
{"t":"8/28 17","o":146.96,"h":146.99,"l":146.93,"c":146.95},
{"t":"8/28 18","o":146.96,"h":146.97,"l":146.80,"c":146.83},
{"t":"8/28 19","o":146.84,"h":146.85,"l":146.66,"c":146.79},
{"t":"8/28 20","o":146.79,"h":146.85,"l":146.78,"c":146.81},
{"t":"8/28 21","o":146.81,"h":146.92,"l":146.79,"c":146.91},
{"t":"8/28 22","o":146.91,"h":146.97,"l":146.89,"c":146.95},
{"t":"8/28 23","o":146.79,"h":146.96,"l":146.78,"c":146.93},
{"t":"8/29 0","o":146.79,"h":147.05,"l":146.77,"c":147.02},
{"t":"8/29 1","o":147.02,"h":147.04,"l":146.79,"c":146.83},
{"t":"8/29 2","o":146.81,"h":147.03,"l":146.78,"c":146.99},
{"t":"8/29 3","o":146.81,"h":147.07,"l":146.77,"c":146.99},
{"t":"8/29 4","o":146.99,"h":147.07,"l":146.79,"c":146.89},
{"t":"8/29 5","o":146.98,"h":147.00,"l":146.85,"c":146.89},
{"t":"8/29 6","o":146.89,"h":147.03,"l":146.87,"c":147.00},
{"t":"8/29 7","o":146.99,"h":147.02,"l":146.96,"c":147.00},
{"t":"8/29 8","o":147.00,"h":147.21,"l":146.99,"c":147.15},
{"t":"8/29 9","o":147.15,"h":147.16,"l":146.90,"c":146.99},
{"t":"8/29 10","o":147.09,"h":147.10,"l":146.93,"c":146.94},
{"t":"8/29 11","o":146.94,"h":147.12,"l":146.93,"c":147.09},
{"t":"8/29 12","o":147.08,"h":147.21,"l":147.05,"c":147.19},
{"t":"8/29 13","o":147.18,"h":147.30,"l":147.17,"c":147.25},
{"t":"8/29 14","o":147.25,"h":147.40,"l":147.24,"c":147.31},
{"t":"8/29 15","o":147.31,"h":147.37,"l":147.08,"c":147.10},
{"t":"8/29 16","o":147.08,"h":147.08,"l":146.76,"c":146.82},
{"t":"8/29 17","o":146.82,"h":146.93,"l":146.78,"c":146.91},
{"t":"8/29 18","o":146.90,"h":146.96,"l":146.88,"c":146.92},
{"t":"8/29 19","o":146.92,"h":147.01,"l":146.90,"c":146.99},
{"t":"8/29 20","o":146.95,"h":147.04,"l":146.93,"c":147.00},
{"t":"8/29 21","o":147.01,"h":147.04,"l":146.93,"c":146.95},
{"t":"8/29 22","o":146.95,"h":147.06,"l":146.92,"c":147.02},
{"t":"8/29 23","o":146.96,"h":147.05,"l":146.95,"c":147.00},
{"t":"9/1 0","o":147.02,"h":147.15,"l":146.98,"c":147.13},
{"t":"9/1 1","o":147.12,"h":147.27,"l":147.10,"c":147.22},
{"t":"9/1 2","o":147.22,"h":147.29,"l":147.20,"c":147.25},
{"t":"9/1 3","o":147.25,"h":147.37,"l":147.23,"c":147.28},
{"t":"9/1 4","o":147.28,"h":147.28,"l":146.86,"c":146.89},
{"t":"9/1 5","o":146.89,"h":147.06,"l":146.87,"c":147.04},
{"t":"9/1 6","o":146.89,"h":147.07,"l":146.87,"c":147.03},
{"t":"9/1 7","o":147.03,"h":147.05,"l":146.84,"c":146.89},
{"t":"9/1 8","o":146.90,"h":146.95,"l":146.76,"c":146.91},
{"t":"9/1 9","o":146.92,"h":147.10,"l":146.91,"c":147.05},
{"t":"9/1 10","o":147.06,"h":147.09,"l":146.94,"c":146.98},
{"t":"9/1 11","o":146.98,"h":147.14,"l":146.96,"c":147.09},
{"t":"9/1 12","o":147.09,"h":147.15,"l":147.06,"c":147.12},
{"t":"9/1 13","o":147.12,"h":147.17,"l":147.10,"c":147.15},
{"t":"9/1 14","o":147.15,"h":147.22,"l":147.13,"c":147.19},
{"t":"9/1 15","o":147.19,"h":147.26,"l":147.17,"c":147.24},
{"t":"9/1 16","o":147.24,"h":147.29,"l":147.22,"c":147.28},
{"t":"9/1 17","o":147.28,"h":147.30,"l":147.25,"c":147.26},
{"t":"9/1 18","o":147.26,"h":147.27,"l":147.20,"c":147.23},
{"t":"9/1 19","o":147.23,"h":147.24,"l":147.19,"c":147.21},
{"t":"9/1 20","o":147.21,"h":147.22,"l":147.18,"c":147.20},
{"t":"9/1 21","o":147.21,"h":147.22,"l":147.17,"c":147.18},
{"t":"9/1 22","o":147.17,"h":147.18,"l":147.13,"c":147.15},
{"t":"9/1 23","o":147.11,"h":147.18,"l":147.09,"c":147.16},
{"t":"9/2 0","o":147.16,"h":147.18,"l":147.13,"c":147.15},
{"t":"9/2 1","o":147.16,"h":147.17,"l":147.06,"c":147.08},
{"t":"9/2 2","o":147.08,"h":147.32,"l":147.06,"c":147.29},
{"t":"9/2 3","o":147.29,"h":147.56,"l":147.28,"c":147.53},
{"t":"9/2 4","o":147.53,"h":147.72,"l":147.50,"c":147.65},
{"t":"9/2 5","o":147.65,"h":147.73,"l":147.62,"c":147.70},
{"t":"9/2 6","o":147.70,"h":147.74,"l":147.68,"c":147.71},
{"t":"9/2 7","o":147.71,"h":147.92,"l":147.70,"c":147.90},
{"t":"9/2 8","o":147.90,"h":147.98,"l":147.88,"c":147.96},
{"t":"9/2 9","o":147.96,"h":148.72,"l":147.94,"c":148.65},
{"t":"9/2 10","o":148.64,"h":148.80,"l":148.18,"c":148.43},
{"t":"9/2 11","o":148.43,"h":148.70,"l":148.38,"c":148.60},
{"t":"9/2 12","o":148.55,"h":148.62,"l":148.50,"c":148.60},
{"t":"9/2 13","o":148.60,"h":148.73,"l":148.57,"c":148.61},
{"t":"9/2 14","o":148.61,"h":148.93,"l":148.60,"c":148.82},
{"t":"9/2 15","o":148.82,"h":148.84,"l":148.34,"c":148.41},
{"t":"9/2 16","o":148.39,"h":148.40,"l":147.94,"c":148.08},
{"t":"9/2 17","o":148.08,"h":148.30,"l":148.05,"c":148.27},
{"t":"9/2 18","o":148.23,"h":148.33,"l":148.20,"c":148.29},
{"t":"9/2 19","o":148.29,"h":148.41,"l":148.27,"c":148.38},
{"t":"9/2 20","o":148.38,"h":148.53,"l":148.36,"c":148.47},
{"t":"9/2 21","o":148.47,"h":148.48,"l":148.32,"c":148.35},
{"t":"9/2 22","o":148.34,"h":148.36,"l":148.28,"c":148.33},
{"t":"9/2 23","o":148.28,"h":148.35,"l":148.25,"c":148.33},
{"t":"9/3 0","o":148.33,"h":148.51,"l":148.31,"c":148.49},
{"t":"9/3 1","o":148.49,"h":148.60,"l":148.47,"c":148.58},
{"t":"9/3 2","o":148.58,"h":148.78,"l":148.55,"c":148.75},
{"t":"9/3 3","o":148.75,"h":148.88,"l":148.73,"c":148.85},
{"t":"9/3 4","o":148.85,"h":148.88,"l":148.80,"c":148.83},
{"t":"9/3 5","o":148.81,"h":148.92,"l":148.78,"c":148.91},
{"t":"9/3 6","o":148.91,"h":148.92,"l":148.50,"c":148.58},
{"t":"9/3 7","o":148.59,"h":148.70,"l":148.47,"c":148.65},
{"t":"9/3 8","o":148.61,"h":148.64,"l":148.58,"c":148.60},
{"t":"9/3 9","o":148.60,"h":149.13,"l":148.56,"c":148.73},
{"t":"9/3 10","o":148.73,"h":148.75,"l":148.52,"c":148.57},
{"t":"9/3 11","o":148.68,"h":148.71,"l":148.44,"c":148.55},
{"t":"9/3 12","o":148.55,"h":148.72,"l":148.50,"c":148.68},
{"t":"9/3 13","o":148.68,"h":148.71,"l":148.58,"c":148.61},
{"t":"9/3 14","o":148.72,"h":148.76,"l":148.56,"c":148.61},
{"t":"9/3 15","o":148.71,"h":148.72,"l":148.53,"c":148.61},
{"t":"9/3 16","o":148.61,"h":148.63,"l":148.13,"c":148.17},
{"t":"9/3 17","o":148.17,"h":148.17,"l":147.94,"c":147.97},
{"t":"9/3 18","o":147.97,"h":147.99,"l":147.88,"c":147.94},
{"t":"9/3 19","o":147.96,"h":148.04,"l":147.90,"c":148.03},
{"t":"9/3 20","o":147.96,"h":148.14,"l":147.93,"c":148.12},
{"t":"9/3 21","o":148.12,"h":148.15,"l":148.04,"c":148.07},
{"t":"9/3 22","o":148.03,"h":148.08,"l":148.01,"c":148.04},
{"t":"9/3 23","o":148.04,"h":148.06,"l":148.00,"c":148.03},
{"t":"9/4 0","o":148.05,"h":148.07,"l":147.95,"c":147.97},
{"t":"9/4 1","o":147.97,"h":148.04,"l":147.94,"c":148.03},
{"t":"9/4 2","o":148.01,"h":148.02,"l":147.90,"c":147.96},
{"t":"9/4 3","o":148.00,"h":148.14,"l":147.80,"c":148.13},
{"t":"9/4 4","o":148.13,"h":148.27,"l":148.10,"c":148.24},
{"t":"9/4 5","o":148.23,"h":148.30,"l":148.20,"c":148.24},
{"t":"9/4 6","o":148.22,"h":148.29,"l":148.20,"c":148.24},
{"t":"9/4 7","o":148.22,"h":148.24,"l":148.14,"c":148.19},
{"t":"9/4 8","o":148.19,"h":148.39,"l":148.17,"c":148.36},
{"t":"9/4 9","o":148.36,"h":148.40,"l":148.12,"c":148.21},
{"t":"9/4 10","o":148.21,"h":148.38,"l":148.16,"c":148.36},
{"t":"9/4 11","o":148.31,"h":148.33,"l":148.19,"c":148.25},
{"t":"9/4 12","o":148.25,"h":148.35,"l":148.20,"c":148.34},
{"t":"9/4 13","o":148.34,"h":148.44,"l":148.01,"c":148.42},
{"t":"9/4 14","o":148.41,"h":148.50,"l":148.38,"c":148.42},
{"t":"9/4 15","o":148.42,"h":148.75,"l":148.40,"c":148.73},
{"t":"9/4 16","o":148.73,"h":148.77,"l":148.58,"c":148.61},
{"t":"9/4 17","o":148.61,"h":148.67,"l":148.59,"c":148.64},
{"t":"9/4 18","o":148.61,"h":148.66,"l":148.59,"c":148.64},
{"t":"9/4 19","o":148.64,"h":148.65,"l":148.54,"c":148.56},
{"t":"9/4 20","o":148.56,"h":148.57,"l":148.44,"c":148.48},
{"t":"9/4 21","o":148.48,"h":148.49,"l":148.41,"c":148.44},
{"t":"9/4 22","o":148.47,"h":148.50,"l":148.37,"c":148.41},
{"t":"9/4 23","o":148.46,"h":148.52,"l":148.44,"c":148.47},
{"t":"9/5 0","o":148.46,"h":148.53,"l":148.39,"c":148.41},
{"t":"9/5 1","o":148.41,"h":148.42,"l":148.13,"c":148.17},
{"t":"9/5 2","o":148.17,"h":148.18,"l":148.10,"c":148.14},
{"t":"9/5 3","o":148.14,"h":148.19,"l":148.09,"c":148.17},
{"t":"9/5 4","o":148.17,"h":148.20,"l":148.12,"c":148.18},
{"t":"9/5 5","o":148.17,"h":148.23,"l":148.14,"c":148.21},
{"t":"9/5 6","o":148.21,"h":148.24,"l":148.15,"c":148.17},
{"t":"9/5 7","o":148.17,"h":148.25,"l":148.15,"c":148.23},
{"t":"9/5 8","o":148.22,"h":148.23,"l":148.13,"c":148.17},
{"t":"9/5 9","o":148.21,"h":148.22,"l":148.12,"c":148.16},
{"t":"9/5 10","o":148.17,"h":148.17,"l":148.10,"c":148.15},
{"t":"9/5 11","o":148.16,"h":148.16,"l":148.12,"c":148.14},
{"t":"9/5 12","o":148.14,"h":148.24,"l":148.12,"c":148.19},
{"t":"9/5 13","o":148.19,"h":148.22,"l":148.13,"c":148.16},
{"t":"9/5 14","o":148.16,"h":148.25,"l":148.14,"c":148.20},
{"t":"9/5 15","o":148.20,"h":148.21,"l":147.27,"c":147.29},
{"t":"9/5 16","o":147.29,"h":147.30,"l":147.03,"c":147.06},
{"t":"9/5 17","o":147.05,"h":147.09,"l":147.00,"c":147.07},
{"t":"9/5 18","o":147.07,"h":147.08,"l":146.82,"c":146.84},
{"t":"9/5 19","o":146.84,"h":147.14,"l":146.82,"c":147.13},
{"t":"9/5 20","o":147.13,"h":147.28,"l":147.10,"c":147.26},
{"t":"9/5 21","o":147.26,"h":147.48,"l":147.24,"c":147.46},
{"t":"9/5 22","o":147.46,"h":147.48,"l":147.34,"c":147.37},
{"t":"9/5 23","o":147.45,"h":147.47,"l":147.30,"c":147.37}
],
"lines":[
{"g":"p1","t":"8/12 7","p":148.69},{"g":"p1","t":"8/18 13","p":146.34},
{"g":"r1","t":"8/14 9","p":146.2},{"g":"r1","t":"8/25 1","p":149.0},
{"g":"p2","t":"8/26 3","p":148.98},{"g":"p2","t":"9/1 10","p":146.62},
{"g":"r2","t":"8/29 22","p":146.56},{"g":"r2","t":"9/5 23","p":148.68}
]
},
"layer":[
{"data":{"name":"candles"},
 "mark":{"type":"rule","color":"black","strokeWidth":1},
 "encoding":{
  "x":{"field":"t","type":"ordinal","sort":null,"scale":{"type":"band","paddingInner":0,"paddingOuter":0},
   "axis":{"title":null,"labelAngle":270,"labelAlign":"right","labelBaseline":"middle","labelFont":"Liberation Mono","labelFontSize":24,"labelColor":"black","labelOverlap":false,"labelBound":false,"labelLimit":600,"labelPadding":2,"ticks":true,"tickSize":7,"tickColor":"black","tickBand":"extent","domainColor":"black","grid":false,
   "labelExpr":"indexof(['5','11','17','23'], split(datum.value,' ')[1]) >= 0 ? '2025/' + datum.value + ':00' : ''"}},
  "y":{"field":"l","type":"quantitative","scale":{"domain":[146,149.3],"nice":false,"zero":false},
   "axis":{"title":null,"orient":"right","values":[146,146.1,146.2,146.3,146.4,146.5,146.6,146.7,146.8,146.9,147,147.1,147.2,147.3,147.4,147.5,147.6,147.7,147.8,147.9,148,148.1,148.2,148.3,148.4,148.5,148.6,148.7,148.8,148.9,149,149.1,149.2,149.3],
   "format":".1~f","labelFont":"Liberation Sans","labelFontSize":19,"labelColor":"black","labelAlign":"left","labelPadding":6,"labelOverlap":false,"labelBound":false,"tickSize":5,"tickColor":"black","domainColor":"black","domainWidth":2,"grid":true,"gridColor":"#111111","gridWidth":1}},
  "y2":{"field":"h"}
 }},
{"data":{"name":"candles"},
 "mark":{"type":"bar","stroke":"black","strokeWidth":1,"width":{"band":0.8}},
 "encoding":{
  "x":{"field":"t","type":"ordinal","sort":null},
  "y":{"field":"o","type":"quantitative"},
  "y2":{"field":"c"},
  "fill":{"condition":{"test":"datum.c > datum.o","value":"white"},"value":"black"}
 }},
{"data":{"name":"lines"},
 "mark":{"type":"line","strokeWidth":6,"strokeCap":"butt"},
 "encoding":{
  "x":{"field":"t","type":"ordinal","sort":null},
  "y":{"field":"p","type":"quantitative"},
  "color":{"field":"g","type":"nominal","scale":{"domain":["p1","r1","p2","r2"],"range":["#7030A0","#FF0000","#7030A0","#FF0000"]},"legend":null}
 }}
]
}
